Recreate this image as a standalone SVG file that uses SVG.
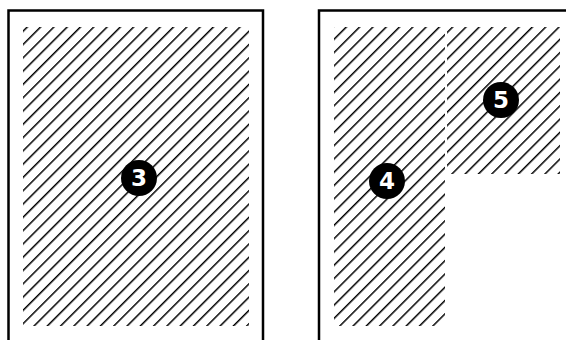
<svg xmlns="http://www.w3.org/2000/svg" width="566" height="340" viewBox="0 0 566 340">
  <style>
    .frame { fill: none; stroke: #000; stroke-width: 2.5; }
    .badge { fill: #000; }
    .num { fill: #fff; font-family: "DejaVu Sans", "Liberation Sans", sans-serif; font-weight: 700; font-size: 23px; text-anchor: middle; dominant-baseline: central; }
  </style>
  <defs>
    <pattern id="hatch" patternUnits="userSpaceOnUse" width="9.4" height="9.4" patternTransform="rotate(45)">
      <line x1="0" y1="0" x2="0" y2="9.4" stroke="#000" stroke-width="3"/>
    </pattern>
  </defs>
  <g id="frame-left">
    <path class="frame" d="M8.5,340 V10.5 H263 V340"/>
  </g>
  <g id="frame-right">
    <path class="frame" d="M319,340 V10.5 H566"/>
  </g>
  <g id="area-3">
    <rect x="23" y="27" width="226" height="299" fill="url(#hatch)"/>
  </g>
  <g id="area-4">
    <rect x="334" y="27" width="111" height="299" fill="url(#hatch)"/>
  </g>
  <g id="area-5">
    <rect x="447" y="27" width="113" height="147" fill="url(#hatch)"/>
  </g>
  <g id="badge-3">
    <circle class="badge" cx="139" cy="178" r="18"/>
    <text class="num" x="139" y="178">3</text>
  </g>
  <g id="badge-4">
    <circle class="badge" cx="387" cy="181" r="18"/>
    <text class="num" x="387" y="181">4</text>
  </g>
  <g id="badge-5">
    <circle class="badge" cx="501" cy="100" r="18"/>
    <text class="num" x="501" y="100">5</text>
  </g>
</svg>
